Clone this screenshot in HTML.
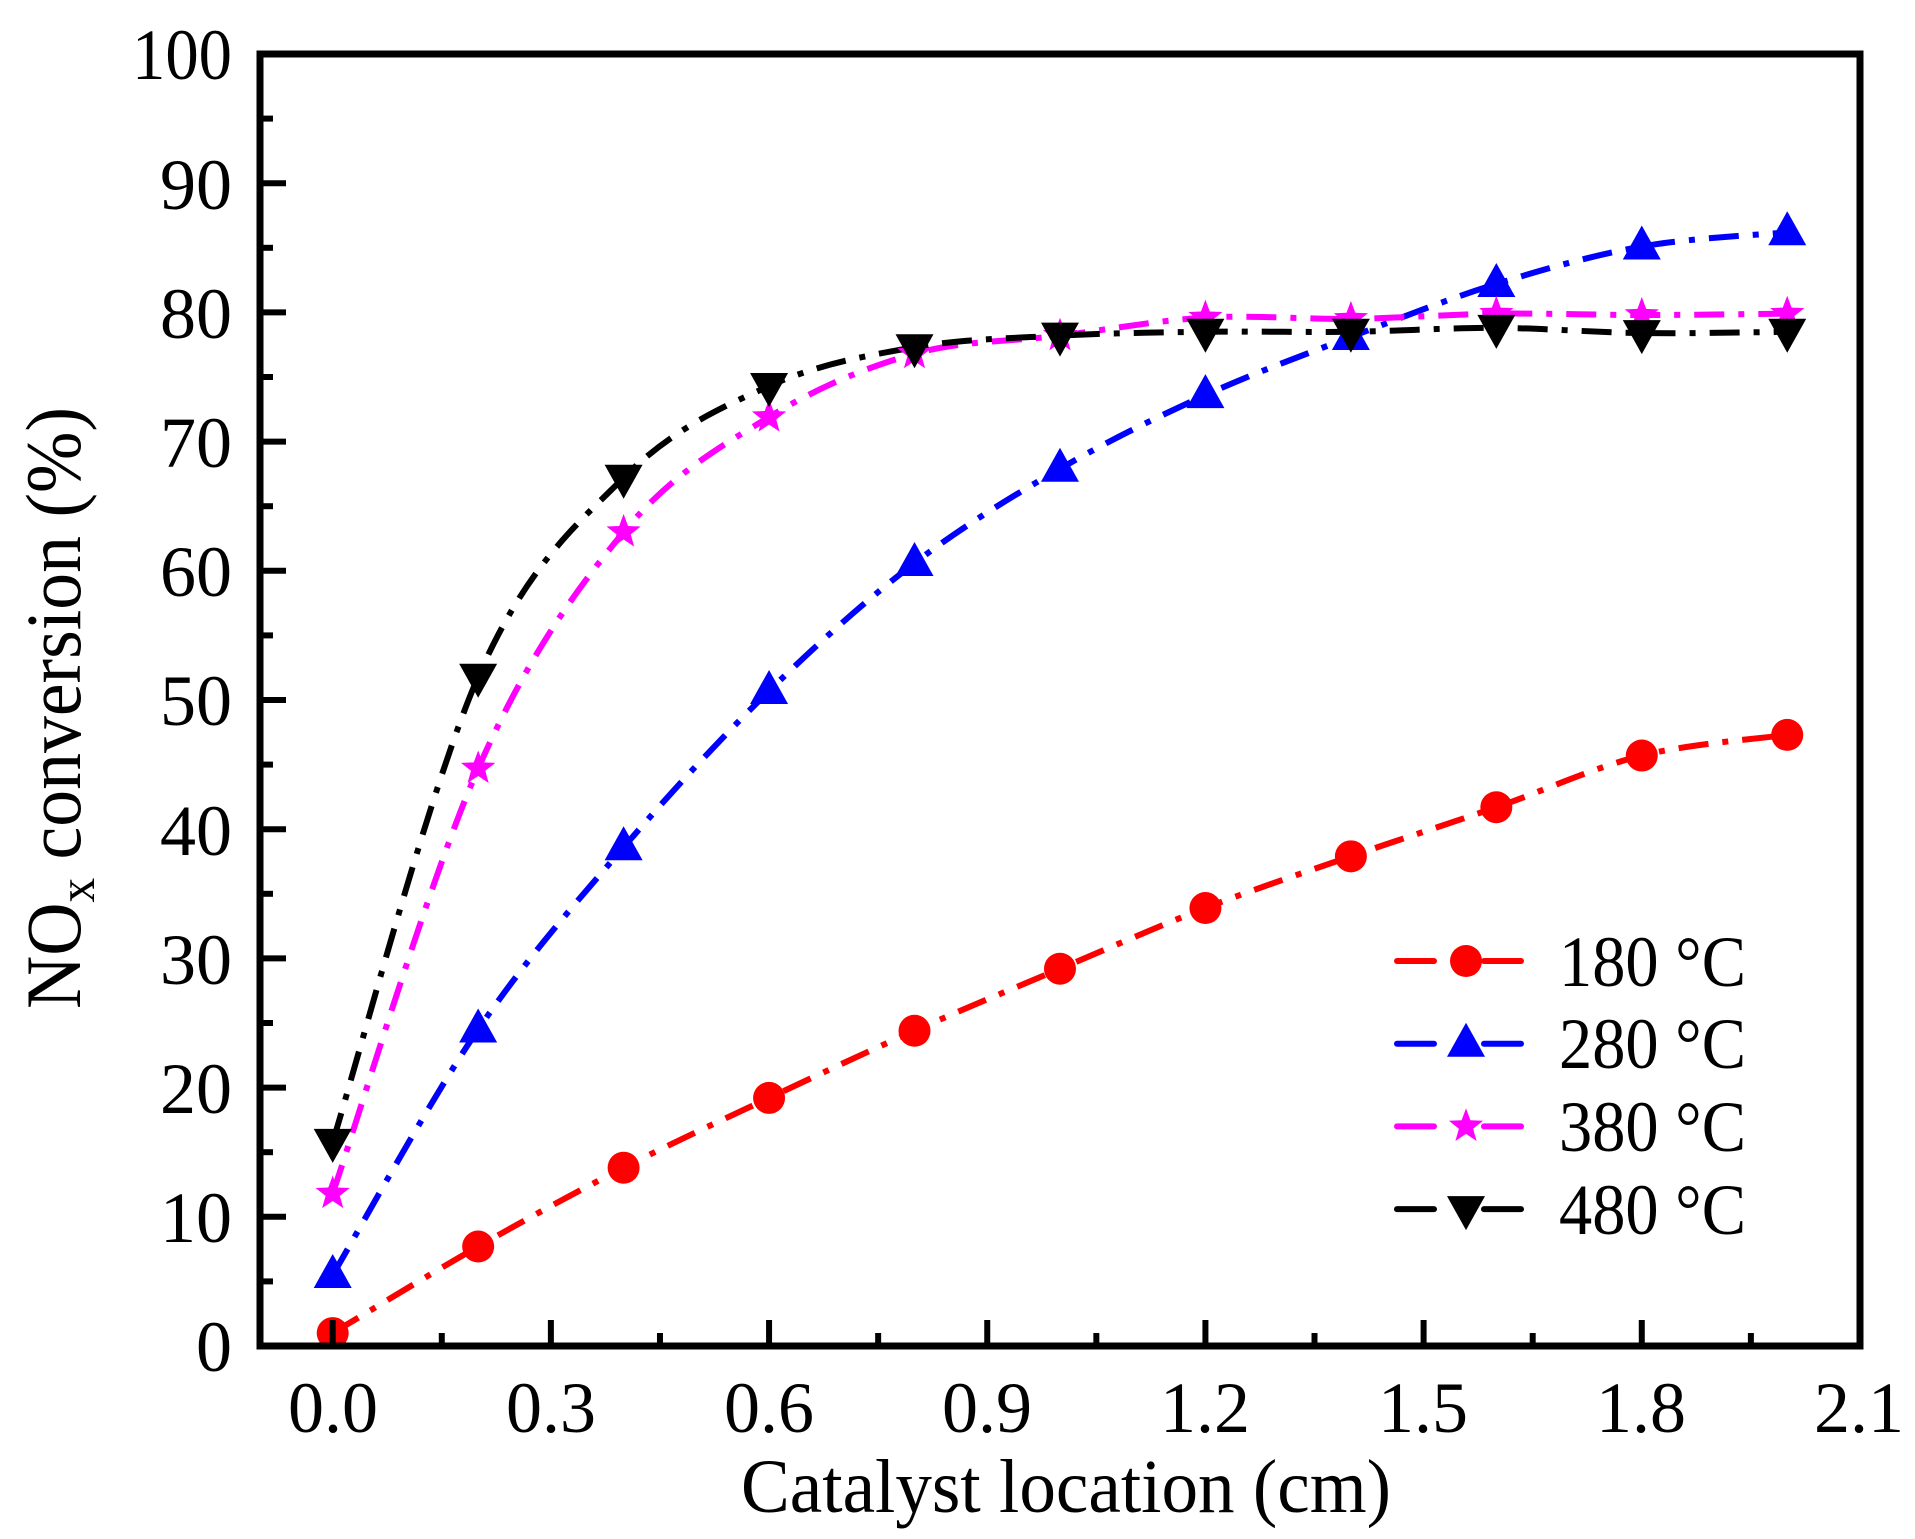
<!DOCTYPE html>
<html><head><meta charset="utf-8"><style>
html,body{margin:0;padding:0;background:#fff;}
svg{display:block;}
text{font-family:"Liberation Serif","Times New Roman",serif;fill:#000;}
</style></head><body>
<svg id="s" width="1915" height="1539" viewBox="0 0 1915 1539" xmlns="http://www.w3.org/2000/svg">
<g id="curves"></g>
<g id="marks"></g>
<rect x="260" y="54" width="1600" height="1292" fill="none" stroke="#000" stroke-width="7"/>
<g id="ticks" stroke="#000" stroke-width="6"></g>
<g font-size="72" text-anchor="end">
<text x="232" y="1371">0</text><text x="232" y="1242">10</text><text x="232" y="1113">20</text>
<text x="232" y="984">30</text><text x="232" y="855">40</text><text x="232" y="725">50</text>
<text x="232" y="596">60</text><text x="232" y="467">70</text><text x="232" y="338">80</text>
<text x="232" y="209">90</text><text x="232" y="79" textLength="100" lengthAdjust="spacingAndGlyphs">100</text>
</g>
<g font-size="72" text-anchor="middle">
<text x="333" y="1432">0.0</text><text x="551" y="1432">0.3</text><text x="769" y="1432">0.6</text>
<text x="987" y="1432">0.9</text><text x="1205" y="1432">1.2</text><text x="1423" y="1432">1.5</text>
<text x="1641" y="1432">1.8</text><text x="1859" y="1432">2.1</text>
</g>
<text x="741" y="1512" font-size="76" textLength="650" lengthAdjust="spacingAndGlyphs">Catalyst location (cm)</text>
<text transform="translate(80,1009) rotate(-90)" font-size="78" textLength="602" lengthAdjust="spacingAndGlyphs">NO<tspan font-size="52" dy="14">x</tspan><tspan dy="-14"> conversion (%)</tspan></text>
<g id="legend"></g>
<g font-size="72">
<text x="1559" y="986" textLength="187" lengthAdjust="spacingAndGlyphs">180 °C</text>
<text x="1559" y="1068" textLength="187" lengthAdjust="spacingAndGlyphs">280 °C</text>
<text x="1559" y="1151" textLength="187" lengthAdjust="spacingAndGlyphs">380 °C</text>
<text x="1559" y="1234" textLength="187" lengthAdjust="spacingAndGlyphs">480 °C</text>
</g>
</svg>
<script>
const NS="http://www.w3.org/2000/svg";
const X=v=>332.7+v*727.27, Y=v=>1346-v*12.92;
const data=[
 ["#ff0000","c",[1.0,7.7,13.8,19.2,24.4,29.2,33.9,37.9,41.7,45.7,47.3]],
 ["#0000ff","t",[5.5,24.5,38.6,50.7,60.6,67.9,73.6,78.1,82.2,85.1,86.2]],
 ["#ff00ff","s",[11.8,44.7,63.0,71.9,76.8,78.2,79.6,79.5,79.9,79.8,79.9]],
 ["#000000","d",[15.8,51.8,67.2,74.3,77.3,78.2,78.5,78.5,78.8,78.4,78.5]]];
function el(t,a,p){const e=document.createElementNS(NS,t);for(const k in a)e.setAttribute(k,a[k]);p.appendChild(e);return e;}
const cg=document.getElementById('curves'),mg=document.getElementById('marks'),lg=document.getElementById('legend');
function marker(type,x,y,col,g){
 if(type=="c")el('circle',{cx:x,cy:y,r:16,fill:col},g);
 else if(type=="t")el('polygon',{points:`${x},${y-21} ${x-19},${y+13} ${x+19},${y+13}`,fill:col},g);
 else if(type=="d")el('polygon',{points:`${x},${y+21} ${x-19},${y-13} ${x+19},${y-13}`,fill:col},g);
 else{let p=[];for(let i=0;i<10;i++){const r=i%2?7.5:18,a=-Math.PI/2+i*Math.PI/5;p.push((x+r*Math.cos(a)).toFixed(1)+","+(y+r*Math.sin(a)).toFixed(1));}el('polygon',{points:p.join(" "),fill:col},g);}
}
data.forEach(([col,type,ys],k)=>{
 const P=ys.map((v,i)=>[X(i*0.2),Y(v)]);
 let d=`M${P[0][0]},${P[0][1]}`;
 for(let i=0;i<P.length-1;i++){
  const p0=P[Math.max(i-1,0)],p1=P[i],p2=P[i+1],p3=P[Math.min(i+2,P.length-1)];
  const c1=[p1[0]+(p2[0]-p0[0])/6,p1[1]+(p2[1]-p0[1])/6],c2=[p2[0]-(p3[0]-p1[0])/6,p2[1]-(p3[1]-p1[1])/6];
  d+=` C${c1[0]},${c1[1]} ${c2[0]},${c2[1]} ${p2[0]},${p2[1]}`;
 }
 el('path',{d:d,fill:"none",stroke:col,"stroke-width":6,"stroke-dasharray":"30 14 6 14"},cg);
 P.forEach(p=>marker(type,p[0],p[1],col,mg));
 const ly=961+k*82.7;
 el('line',{x1:1397,y1:ly,x2:1434,y2:ly,stroke:col,"stroke-width":6,"stroke-linecap":"round"},lg);
 el('line',{x1:1484,y1:ly,x2:1521,y2:ly,stroke:col,"stroke-width":6,"stroke-linecap":"round"},lg);
 marker(type,1466,ly,col,lg);
});
const tg=document.getElementById('ticks');
for(let i=0;i<=20;i++){const y=Y(i*5),L=i%2?13:26;el('line',{x1:260,y1:y,x2:260+L,y2:y},tg);}
for(let i=0;i<=14;i++){const v=i*0.15;const x=X(v);if(x>1858)break;const L=i%2?13:26;el('line',{x1:x,y1:1346,x2:x,y2:1346-L},tg);}
</script>
</body></html>
